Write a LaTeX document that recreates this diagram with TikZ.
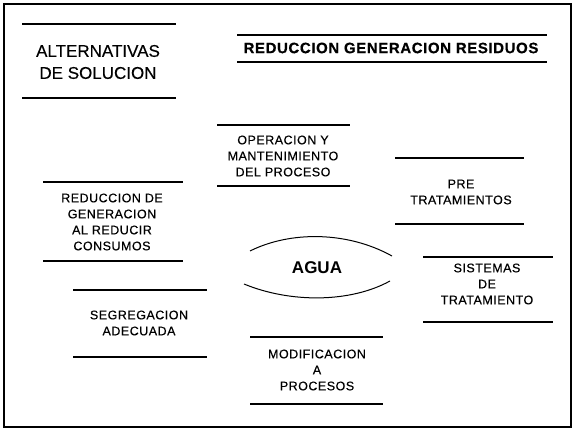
\documentclass[tikz,border=0pt]{standalone}
\usepackage{fontspec}
\setmainfont{Liberation Sans}
\newfontfamily\boxfont[LetterSpace=4,FakeBold=0.4]{Liberation Sans}
\newfontfamily\bigfont[FakeBold=0.3]{Liberation Sans}
\begin{document}
\begin{tikzpicture}[x=1pt,y=-1pt,
  rule/.style={line width=1.3pt, black},
  txt/.style={align=center, inner sep=0pt, font=\fontsize{12.5}{16}\boxfont},
  big/.style={align=center, inner sep=0pt, font=\fontsize{17}{22}\bigfont},
  bold/.style={align=center, inner sep=0pt, font=\fontsize{15}{18}\bfseries\boxfont}]
\useasboundingbox (0,0) rectangle (575,430);
% frame
\draw[line width=1.5pt] (4,4) rectangle (571,427);
% ALTERNATIVAS
\draw[rule] (22,24) -- (176,24);
\draw[rule] (22,98) -- (176,98);
\node[big] (alt) at (98,62) {ALTERNATIVAS\\DE SOLUCION};
% Reduccion generacion residuos
\draw[rule] (237,35) -- (547,35);
\draw[rule] (237,62) -- (547,62);
\node[bold] (rgr) at (391,48) {REDUCCION GENERACION RESIDUOS};
% Operacion
\draw[rule] (217,125) -- (350,125);
\draw[rule] (217,186) -- (350,186);
\node[txt] (op) at (283,156) {OPERACION Y\\MANTENIMIENTO\\DEL PROCESO};
% Pre
\draw[rule] (395,158) -- (524,158);
\draw[rule] (395,224) -- (524,224);
\node[txt] (pre) at (461,192) {PRE\\TRATAMIENTOS};
% Reduccion de generacion
\draw[rule] (43,182) -- (183,182);
\draw[rule] (43,261) -- (183,261);
\node[txt] (red) at (112,222) {REDUCCION DE\\GENERACION\\AL REDUCIR\\CONSUMOS};
% Segregacion
\draw[rule] (73,290) -- (207,290);
\draw[rule] (73,357) -- (207,357);
\node[txt] (seg) at (139,323) {SEGREGACION\\ADECUADA};
% Agua
\draw[line width=1pt] (250,251) .. controls (290,231) and (347,231) .. (392,256);
\draw[line width=1pt] (244,284) .. controls (290,303) and (350,303) .. (390,281);
\node[align=center, inner sep=0pt, font=\fontsize{17}{20}\bfseries\selectfont] (agua) at (317,268) {AGUA};
% Sistemas
\draw[rule] (423,257) -- (553,257);
\draw[rule] (423,322) -- (553,322);
\node[txt] (sis) at (487,284) {SISTEMAS\\DE\\TRATAMIENTO};
% Modificacion
\draw[rule] (250,337) -- (383,337);
\draw[rule] (250,404) -- (383,404);
\node[txt] (mod) at (317,370) {MODIFICACION\\A\\PROCESOS};
\end{tikzpicture}
\end{document}
